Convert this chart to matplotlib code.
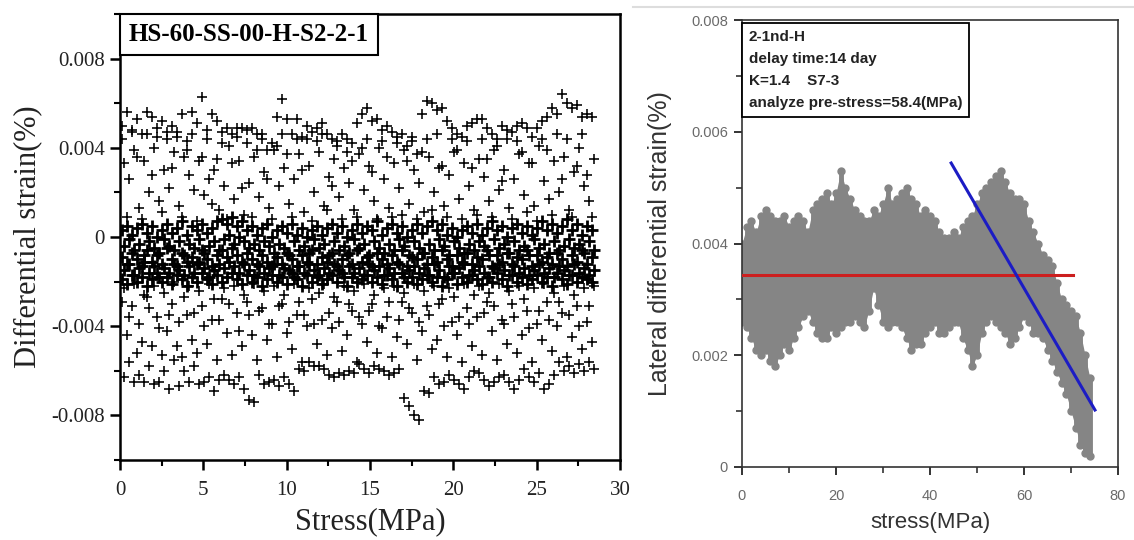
import numpy as np
import matplotlib.pyplot as plt
from matplotlib.ticker import MultipleLocator
from matplotlib.lines import Line2D

# ---------------- left panel: differential strain (values in 1e-3 %) ----------------
stress_a = [0.1, 0.4, 0.7, 1.0, 1.3, 1.6, 1.9, 2.2, 2.5, 2.8,
            3.1, 3.4, 3.7, 4.0, 4.3, 4.6, 4.9, 5.2, 5.5, 5.8,
            6.1, 6.4, 6.7, 7.0, 7.3, 7.6, 7.9, 8.2, 8.5, 8.8,
            9.1, 9.4, 9.7, 10.0, 10.3, 10.6, 10.9, 11.2, 11.5, 11.8,
            12.1, 12.4, 12.7, 13.0, 13.3, 13.6, 13.9, 14.2, 14.5, 14.8,
            15.1, 15.4, 15.7, 16.0, 16.3, 16.6, 16.9, 17.2, 17.5, 17.8,
            18.1, 18.4, 18.7, 19.0, 19.3, 19.6, 19.9, 20.2, 20.5, 20.8,
            21.1, 21.4, 21.7, 22.0, 22.3, 22.6, 22.9, 23.2, 23.5, 23.8,
            24.1, 24.4, 24.7, 25.0, 25.3, 25.6, 25.9, 26.2, 26.5, 26.8,
            27.1, 27.4, 27.7, 28.0, 28.3]
stress_b = [0.25, 0.55, 0.85, 1.15, 1.45, 1.75, 2.05, 2.35, 2.65, 2.95,
            3.25, 3.55, 3.85, 4.15, 4.45, 4.75, 5.05, 5.35, 5.65, 5.95,
            6.25, 6.55, 6.85, 7.15, 7.45, 7.75, 8.05, 8.35, 8.65, 8.95,
            9.25, 9.55, 9.85, 10.15, 10.45, 10.75, 11.05, 11.35, 11.65, 11.95,
            12.25, 12.55, 12.85, 13.15, 13.45, 13.75, 14.05, 14.35, 14.65, 14.95,
            15.25, 15.55, 15.85, 16.15, 16.45, 16.75, 17.05, 17.35, 17.65, 17.95,
            18.25, 18.55, 18.85, 19.15, 19.45, 19.75, 20.05, 20.35, 20.65, 20.95,
            21.25, 21.55, 21.85, 22.15, 22.45, 22.75, 23.05, 23.35, 23.65, 23.95,
            24.25, 24.55, 24.85, 25.15, 25.45, 25.75, 26.05, 26.35, 26.65, 26.95,
            27.25, 27.55, 27.85, 28.15, 28.45]

upper_1 = [5.0, 5.6, 4.8, 5.3, 4.6, 5.6, 5.4, 4.9, 5.2, 4.4,
           5.0, 4.7, 5.5, 4.3, 5.6, 5.1, 6.3, 4.8, 5.5, 5.2,
           4.7, 4.9, 4.6, 4.9, 4.9, 4.8, 4.9, 4.6, 4.4, 3.9,
           4.2, 5.4, 6.2, 5.3, 4.6, 5.3, 4.5, 5.0, 4.7, 4.9,
           5.1, 4.6, 4.4, 4.3, 4.6, 3.8, 4.2, 5.1, 5.5, 5.8,
           5.2, 5.3, 4.8, 5.0, 4.7, 4.5, 4.6, 4.1, 4.3, 3.7,
           5.5, 6.1, 6.0, 5.7, 5.8, 5.2, 4.9, 4.6, 4.5, 5.0,
           5.1, 5.3, 5.3, 4.9, 4.6, 4.4, 5.0, 4.8, 4.7, 5.0,
           5.1, 4.9, 4.5, 4.9, 5.2, 5.4, 5.8, 5.5, 6.4, 6.0,
           5.8, 5.9, 5.4, 5.5, 5.4]
upper_2 = [3.3, 2.6, 3.9, 1.3, 3.4, 2.0, 4.0, 1.6, 3.0, 2.2,
           3.8, 1.4, 3.6, 2.8, 2.1, 3.4, 1.9, 2.6, 3.0, 1.2,
           2.3, 4.1, 1.7, 3.4, 1.0, 2.4, 3.6, 1.8, 2.9, 1.3,
           3.9, 2.3, 3.1, 1.5, 2.6, 3.7, 1.1, 3.2, 2.0, 3.8,
           1.4, 2.7, 3.5, 1.8, 3.1, 2.4, 1.2, 3.7, 2.1, 3.2,
           1.6, 4.0, 2.6, 1.3, 3.3, 2.2, 3.9, 1.5, 3.0, 2.4,
           1.1, 3.6, 2.0, 3.1, 1.4, 2.8, 3.8, 1.7, 3.3, 2.3,
           1.2, 3.5, 2.7, 1.6, 3.9, 2.1, 3.0, 1.3, 2.6, 3.7,
           1.9, 3.3, 1.4, 4.1, 2.5, 1.7, 3.4, 2.0, 3.6, 1.2,
           2.9, 4.0, 2.3, 1.6, 3.5]
upper_3 = [4.4, 0.9, 4.7, 3.6, 0.8, 4.6, 2.8, 4.5, 1.1, 4.7,
           3.1, 4.5, 0.9, 3.9, 4.6, 0.7, 3.6, 4.4, 1.5, 3.5,
           4.2, 0.8, 3.3, 4.5, 2.2, 4.2, 0.9, 3.9, 4.6, 2.6,
           0.8, 4.1, 4.6, 3.7, 0.9, 4.4, 3.0, 4.4, 0.7, 4.3,
           4.6, 1.2, 2.3, 4.1, 0.8, 4.4, 3.4, 0.9, 4.0, 4.4,
           2.9, 0.8, 4.3, 3.6, 0.9, 4.2, 1.0, 3.4, 4.5, 0.8,
           3.8, 4.4, 1.2, 4.6, 3.2, 0.9, 4.4, 3.9, 0.8, 4.3,
           3.1, 1.0, 4.4, 3.5, 0.9, 4.1, 2.5, 4.4, 0.8, 4.3,
           3.8, 1.1, 3.3, 0.7, 4.4, 3.9, 1.0, 4.6, 2.6, 4.4,
           0.9, 3.2, 4.6, 2.8, 0.9]

band_1 = [0.3, 0.5, 0.1, 0.4, 0.6, 0.2, 0.5, 0.0, 0.3, 0.6,
          0.2, 0.4, 0.7, 0.1, 0.5, 0.3, 0.6, 0.2, 0.4, 0.7,
          0.8, 0.6, 0.9, 0.5, 0.7, 0.3, 0.5, 0.1, 0.4, 0.6,
          0.0, 0.3, 0.5, 0.2, 0.6, 0.1, 0.4, 0.0, 0.3, 0.5,
          0.1, 0.4, 0.6, 0.2, 0.5, 0.0, 0.3, 0.6, 0.2, 0.5,
          0.3, 0.7, 0.1, 0.4, 0.6, 0.2, 0.5, 0.0, 0.3, 0.6,
          0.2, 0.5, 0.7, 0.3, 0.6, 0.1, 0.4, 0.0, 0.3, 0.5,
          0.2, 0.6, 0.1, 0.4, 0.7, 0.3, 0.5, 0.0, 0.4, 0.6,
          0.2, 0.5, 0.1, 0.4, 0.7, 0.3, 0.6, 0.2, 0.5, 0.8,
          0.3, 0.6, 0.1, 0.5, 0.3]
band_2 = [-0.4, -0.1, -0.6, -0.3, -0.8, -0.2, -0.5, -0.7, -0.1, -0.4,
          -0.6, -0.2, -0.8, -0.3, -0.5, -0.1, -0.7, -0.4, -0.2, -0.6,
          -0.1, 0.1, -0.3, 0.0, -0.2, -0.5, -0.3, -0.6, -0.2, -0.4,
          -0.7, -0.3, -0.5, -0.8, -0.2, -0.6, -0.4, -0.7, -0.1, -0.5,
          -0.3, -0.8, -0.2, -0.6, -0.4, -0.7, -0.1, -0.5, -0.3, -0.8,
          -0.2, -0.5, -0.7, -0.3, -0.6, -0.1, -0.4, -0.8, -0.2, -0.5,
          -0.7, -0.3, -0.6, -0.1, -0.4, -0.8, -0.2, -0.5, -0.7, -0.3,
          -0.6, -0.2, -0.4, -0.8, -0.1, -0.5, -0.3, -0.7, -0.2, -0.6,
          -0.4, -0.8, -0.1, -0.5, -0.3, -0.7, -0.2, -0.6, -0.4, -0.1,
          -0.5, -0.3, -0.7, -0.2, -0.6]
band_3 = [-0.9, -1.2, -0.7, -1.0, -1.3, -0.6, -1.1, -0.8, -1.2, -0.5,
          -1.0, -1.3, -0.7, -1.1, -0.9, -1.2, -0.6, -1.0, -1.3, -0.8,
          -0.6, -0.9, -0.5, -0.8, -1.1, -0.7, -1.0, -1.2, -0.8, -1.1,
          -1.3, -0.9, -1.2, -0.7, -1.0, -1.3, -0.8, -1.1, -0.6, -1.2,
          -0.9, -1.1, -0.7, -1.3, -1.0, -0.8, -1.2, -0.6, -1.1, -0.9,
          -1.3, -0.7, -1.0, -1.2, -0.8, -1.1, -0.6, -1.3, -0.9, -1.0,
          -0.7, -1.2, -0.9, -1.1, -0.6, -1.0, -1.3, -0.8, -1.1, -0.7,
          -1.2, -0.9, -1.0, -0.6, -1.3, -0.8, -1.1, -0.7, -1.2, -0.9,
          -1.0, -0.6, -1.3, -0.8, -1.1, -0.9, -1.2, -0.7, -1.0, -1.3,
          -0.8, -1.1, -0.6, -1.2, -0.9]
band_4 = [-1.5, -1.2, -1.7, -1.4, -1.1, -1.6, -1.3, -1.8, -1.4, -1.6,
          -1.2, -1.5, -1.7, -1.3, -1.6, -1.1, -1.4, -1.8, -1.5, -1.2,
          -1.4, -1.1, -1.3, -1.6, -1.2, -1.5, -1.7, -1.3, -1.6, -1.4,
          -1.2, -1.7, -1.4, -1.5, -1.8, -1.3, -1.6, -1.2, -1.5, -1.7,
          -1.4, -1.6, -1.2, -1.5, -1.8, -1.3, -1.6, -1.4, -1.7, -1.2,
          -1.5, -1.3, -1.7, -1.4, -1.6, -1.2, -1.8, -1.5, -1.3, -1.6,
          -1.4, -1.7, -1.2, -1.5, -1.8, -1.3, -1.6, -1.4, -1.2, -1.7,
          -1.5, -1.3, -1.6, -1.8, -1.4, -1.2, -1.5, -1.7, -1.3, -1.6,
          -1.4, -1.7, -1.5, -1.2, -1.6, -1.4, -1.8, -1.3, -1.5, -1.7,
          -1.2, -1.6, -1.4, -1.7, -1.5]
band_5 = [-1.9, -2.1, -1.7, -2.0, -1.8, -2.2, -1.9, -1.6, -2.0, -1.8,
          -2.1, -1.7, -1.9, -2.2, -1.8, -2.0, -1.6, -1.9, -2.1, -1.7,
          -2.0, -1.8, -1.6, -1.9, -2.1, -1.7, -2.0, -1.8, -2.2, -1.9,
          -1.7, -2.0, -1.8, -2.1, -1.6, -1.9, -2.2, -1.7, -2.0, -1.8,
          -2.1, -1.9, -1.7, -2.0, -1.6, -2.2, -1.8, -2.0, -1.9, -1.7,
          -2.0, -1.8, -2.1, -1.7, -1.9, -2.2, -1.6, -2.0, -1.8, -2.1,
          -1.9, -1.7, -2.0, -1.8, -2.2, -1.9, -1.6, -2.1, -1.8, -2.0,
          -1.7, -1.9, -2.1, -1.8, -2.0, -1.6, -1.9, -2.2, -1.7, -2.0,
          -1.8, -2.1, -1.9, -1.7, -2.0, -1.8, -2.2, -1.6, -1.9, -2.1,
          -1.7, -2.0, -1.8, -1.9, -2.0]

lower_1 = [-2.3, -3.6, -2.1, -3.9, -2.6, -3.2, -2.2, -4.1, -2.5, -3.5,
           -2.0, -3.8, -2.7, -2.2, -3.4, -2.4, -4.0, -2.1, -2.8, -3.7,
           -2.3, -3.0, -2.2, -4.2, -2.6, -3.5, -2.1, -3.3, -2.4, -3.9,
           -2.2, -3.1, -2.6, -3.8, -2.1, -2.9, -3.5, -2.3, -3.9, -2.5,
           -2.1, -3.4, -2.7, -3.8, -2.2, -3.0, -2.4, -3.6, -2.1, -3.3,
           -2.6, -4.0, -2.3, -2.9, -2.2, -3.7, -2.5, -3.2, -2.1, -3.8,
           -2.4, -3.5, -2.2, -3.0, -4.0, -2.3, -2.7, -3.6, -2.1, -3.9,
           -2.6, -2.2, -3.4, -2.5, -3.1, -2.1, -3.9, -2.4, -3.6, -2.2,
           -2.8, -4.1, -2.3, -3.3, -2.1, -3.7, -2.5, -2.9, -2.2, -3.5,
           -2.6, -4.0, -2.3, -3.1, -2.2]
lower_2 = [-2.9, -4.4, -3.1, -5.2, -4.7, -2.7, -4.9, -3.6, -5.3, -4.2,
           -3.0, -4.9, -5.4, -3.5, -4.6, -5.2, -3.1, -4.8, -3.7, -5.5,
           -2.8, -4.3, -5.3, -3.4, -4.9, -2.9, -4.4, -5.5, -3.2, -4.6,
           -3.9, -5.4, -3.0, -4.3, -5.0, -3.5, -5.6, -4.0, -2.8, -4.8,
           -3.7, -5.3, -4.1, -2.9, -5.1, -4.4, -3.3, -5.6, -3.9, -4.7,
           -3.0, -5.2, -4.1, -3.6, -5.4, -4.5, -2.9, -4.8, -3.4, -5.5,
           -4.2, -3.1, -5.0, -4.6, -2.8, -5.4, -3.8, -4.4, -5.6, -3.2,
           -4.9, -3.6, -5.3, -2.9, -4.2, -5.5, -3.7, -4.8, -3.0, -5.2,
           -4.4, -3.3, -5.6, -3.9, -4.6, -2.9, -5.1, -4.0, -3.4, -5.4,
           -4.5, -3.1, -5.0, -3.8, -4.7]
lower_3 = [-6.3, -5.6, -6.5, -6.2, -6.5, -5.8, -6.6, -6.5, -6.0, -6.8,
           -5.5, -6.7, -6.0, -6.5, -5.8, -6.6, -6.5, -6.3, -6.9, -6.4,
           -6.2, -6.4, -6.6, -6.3, -6.8, -7.3, -7.4, -6.2, -6.6, -6.5,
           -6.4, -6.7, -6.3, -6.6, -6.9, -5.9, -6.0, -5.6, -5.8, -5.8,
           -5.9, -6.2, -6.3, -6.1, -6.2, -6.0, -6.1, -5.7, -5.9, -6.1,
           -5.8, -5.9, -6.0, -6.2, -6.1, -5.9, -7.2, -7.6, -8.0, -8.2,
           -6.9, -7.0, -6.3, -6.6, -6.5, -6.2, -6.4, -6.6, -6.8, -6.3,
           -6.0, -6.1, -6.4, -6.7, -6.5, -6.3, -6.2, -6.5, -6.8, -6.4,
           -5.9, -6.3, -6.5, -6.1, -6.8, -6.6, -6.2, -5.6, -6.0, -5.8,
           -6.1, -5.7, -6.0, -5.6, -5.9]

sparse_series = [(stress_a, upper_1), (stress_b, upper_2), (stress_a, upper_3),
                 (stress_b, lower_1), (stress_a, lower_2), (stress_b, lower_3)]
band_series = [(stress_a, band_1), (stress_b, band_2), (stress_a, band_3),
               (stress_b, band_4), (stress_a, band_5)]

# ---------------- right panel: lateral differential strain (1e-3 %) ----------------
stress_r = list(range(0, 75))
strain_hi = [4.0, 4.3, 4.4, 4.2, 4.5, 4.6, 4.5, 4.4, 4.4, 4.5,
             4.3, 4.4, 4.5, 4.4, 4.2, 4.6, 4.7, 4.8, 4.9, 4.7,
             4.9, 5.3, 5.0, 4.8, 4.6, 4.5, 4.4, 4.4, 4.6, 4.5,
             4.7, 5.0, 4.7, 4.8, 4.9, 5.0, 4.8, 4.7, 4.5, 4.6,
             4.5, 4.4, 4.2, 4.1, 4.1, 4.2, 4.1, 4.3, 4.4, 4.5,
             4.7, 4.9, 5.0, 5.1, 5.2, 5.3, 5.1, 4.9, 4.8, 4.8,
             4.7, 4.4, 4.2, 4.0, 3.8, 3.7, 3.6, 3.3, 3.0, 2.9,
             2.8, 2.7, 2.4, 2.0, 1.6]
strain_lo = [2.6, 2.5, 2.3, 2.1, 2.0, 2.1, 1.9, 1.8, 2.0, 2.2,
             2.1, 2.3, 2.5, 2.7, 2.8, 2.6, 2.4, 2.3, 2.3, 2.5,
             2.4, 2.5, 2.6, 2.6, 2.7, 2.6, 2.5, 2.8, 3.2, 2.9,
             2.6, 2.5, 2.6, 2.6, 2.5, 2.3, 2.1, 2.2, 2.2, 2.4,
             2.5, 2.6, 2.4, 2.4, 2.5, 2.6, 2.6, 2.3, 2.1, 1.8,
             2.0, 2.4, 2.6, 2.7, 2.6, 2.5, 2.4, 2.2, 2.3, 2.5,
             2.7, 2.6, 2.4, 2.4, 2.3, 2.1, 1.9, 1.7, 1.5, 1.3,
             1.0, 0.7, 0.4, 0.25, 0.2]
red_x = [0, 70.4]
red_y = [3.43, 3.43]
blue_x = [44.5, 75.1]
blue_y = [5.44, 1.02]

info_lines = ['2-1nd-H', 'delay time:14 day', 'K=1.4    S7-3',
              'analyze pre-stress=58.4(MPa)']

serif = ['Liberation Serif', 'DejaVu Serif']
sans = ['Liberation Sans', 'DejaVu Sans']
W, H = 1134, 540

fig = plt.figure(figsize=(11.34, 5.4), dpi=100)

# ===== left =====
ax1 = fig.add_axes([120 / W, 1 - 460 / H, 500 / W, 446 / H])
for xs, ys in sparse_series:
    ax1.plot(xs, np.array(ys) * 1e-3, '+', color='black', ms=7.5, mew=1.15)
for xs, ys in band_series:
    ax1.plot(xs, np.array(ys) * 1e-3, '+', color='black', ms=9, mew=2.0)
ax1.set_xlim(0, 30)
ax1.set_ylim(-0.01, 0.01)
ax1.set_xticks([0, 5, 10, 15, 20, 25, 30])
ax1.xaxis.set_minor_locator(MultipleLocator(2.5))
ax1.set_yticks([-0.008, -0.004, 0, 0.004, 0.008])
ax1.set_yticklabels(['-0.008', '-0.004', '0', '0.004', '0.008'])
ax1.yaxis.set_minor_locator(MultipleLocator(0.002))
for s in ax1.spines.values():
    s.set_linewidth(1.8)
ax1.tick_params(which='major', direction='out', length=7, width=1.8,
                labelsize=15, labelcolor='#222222', pad=4)
ax1.tick_params(axis='x', which='major', pad=8)
ax1.tick_params(which='minor', direction='out', length=4.5, width=1.5)
for lab in ax1.get_xticklabels() + ax1.get_yticklabels():
    lab.set_family(serif)
ax1.set_xlabel('Stress(MPa)', fontsize=22, family=serif, color='#222222')
ax1.set_ylabel('Differential strain(%)', fontsize=22, family=serif, color='#222222')
ax1.xaxis.set_label_coords(0.5, -0.105)
ax1.yaxis.set_label_coords(-0.155, 0.5)
ax1.annotate('HS-60-SS-00-H-S2-2-1', xy=(0, 1), xycoords='axes fraction',
             xytext=(6.5, -6.5), textcoords='offset points', ha='left', va='top',
             fontsize=18, fontweight='bold', family=serif,
             bbox=dict(boxstyle='square,pad=0.36', fc='white', ec='black', lw=1.5))

# ===== right =====
ax2 = fig.add_axes([742 / W, 1 - 467 / H, 376 / W, 447 / H])
gray = '#858585'
hi = np.array(strain_hi) * 1e-3
lo = np.array(strain_lo) * 1e-3
ax2.fill_between(stress_r, lo, hi, color=gray, lw=0, zorder=2)
ax2.vlines(stress_r, lo, hi, color=gray, lw=3.5, zorder=2)
ax2.plot(stress_r, hi, 'o', color=gray, ms=5, zorder=2)
ax2.plot(stress_r, lo, 'o', color=gray, ms=5, zorder=2)
ax2.plot(red_x, np.array(red_y) * 1e-3, color='#cc1f1f', lw=2.2, zorder=3)
ax2.plot(blue_x, np.array(blue_y) * 1e-3, color='#1c1cc4', lw=2.2, zorder=4)
ax2.set_xlim(0, 80)
ax2.set_ylim(0, 0.008)
ax2.set_xticks([0, 20, 40, 60, 80])
ax2.xaxis.set_minor_locator(MultipleLocator(10))
ax2.set_yticks([0, 0.002, 0.004, 0.006, 0.008])
ax2.set_yticklabels(['0', '0.002', '0.004', '0.006', '0.008'])
ax2.yaxis.set_minor_locator(MultipleLocator(0.001))
for s in ax2.spines.values():
    s.set_linewidth(1.2)
    s.set_color('#333333')
ax2.tick_params(which='major', direction='out', length=6, width=1.4,
                labelsize=10.5, labelcolor='#6a6a6a', color='#333333', pad=4)
ax2.tick_params(axis='x', which='major', pad=10)
ax2.tick_params(which='minor', direction='out', length=4, width=1.2, color='#333333')
for lab in ax2.get_xticklabels() + ax2.get_yticklabels():
    lab.set_family(sans)
ax2.set_xlabel('stress(MPa)', fontsize=16, family=sans, color='#333333')
ax2.set_ylabel('Lateral differential strain(%)', fontsize=18, family=sans, color='#333333')
ax2.xaxis.set_label_coords(0.5, -0.1)
ax2.yaxis.set_label_coords(-0.185, 0.5)
ax2.annotate('\n'.join(info_lines), xy=(0, 1), xycoords='axes fraction',
             xytext=(5, -7), textcoords='offset points', ha='left', va='top',
             fontsize=11, fontweight='bold', family=sans, linespacing=1.75,
             color='#222222',
             bbox=dict(boxstyle='square,pad=0.45', fc='white', ec='black', lw=1.3))

# faint scan line above right panel
fig.add_artist(Line2D([633 / W, 1.0], [1 - 7 / H, 1 - 7 / H], color='#dddddd', lw=1.5))

fig.savefig('out.png', dpi=100)
